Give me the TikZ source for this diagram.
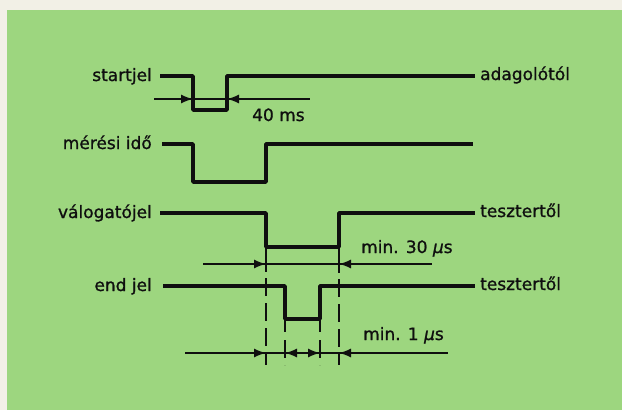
\documentclass[tikz,border=0pt]{standalone}
\usepackage{fontspec}
\setmainfont{DejaVu Sans}[BoldFont={DejaVu Sans},BoldFeatures={FakeBold=1.0},BoldItalicFont={DejaVu Sans Oblique},BoldItalicFeatures={FakeBold=1.0}]
\usetikzlibrary{arrows.meta}
\definecolor{paper}{RGB}{242,240,230}
\definecolor{bggreen}{RGB}{157,214,127}
\definecolor{ink}{RGB}{15,15,15}
\tikzset{
  sig/.style={draw=ink, line width=3.8pt, line join=round},
  dimline/.style={draw=ink, line width=1.5pt},
  arr/.style={draw=ink, line width=1.5pt, -{Latex[length=12pt,width=9pt]}},
  guide/.style={draw=ink, line width=2pt, dash pattern=on 18pt off 7pt},
  tick/.style={draw=ink, line width=2pt},
  lab/.style={font=\fontsize{17}{20}\selectfont\bfseries, text=ink, inner sep=0pt},
}
\begin{document}
\begin{tikzpicture}[x=1pt,y=-1pt]
\fill[paper] (0,0) rectangle (622,410);
\fill[bggreen] (7,10) rectangle (622,410);
\useasboundingbox (0,0) rectangle (622,410);

% labels left
\node[lab, anchor=base east] (l1) at (152,81) {startjel};
\node[lab, anchor=base east] (l2) at (152,149) {mérési idő};
\node[lab, anchor=base east] (l3) at (152,218) {válogatójel};
\node[lab, anchor=base east] (l4) at (152,291) {end jel};
% labels right
\node[lab, anchor=base west] (r1) at (480,80) {adagolótól};
\node[lab, anchor=base west] (r3) at (480,217) {tesztertől};
\node[lab, anchor=base west] (r4) at (480,290) {tesztertől};
% dimension texts
\node[lab, anchor=base west] (d1) at (252,121) {40 ms};
\node[lab, anchor=base west] (d2) at (361,253) {min. 30 \textit{μ}s};
\node[lab, anchor=base west] (d3) at (363,340) {min. 1 \textit{μ}s};

% signals
\draw[sig] (160,76) -- (193,76) -- (193,110) -- (227,110) -- (227,76) -- (475,76);
\draw[sig] (162,144) -- (193,144) -- (193,182) -- (266,182) -- (266,144) -- (473,144);
\draw[sig] (160,213) -- (266,213) -- (266,247) -- (339,247) -- (339,213) -- (475,213);
\draw[sig] (163,286) -- (285,286) -- (285,319) -- (320,319) -- (320,286) -- (475,286);

% guide lines
\draw[tick] (266,247) -- (266,272);
\draw[tick] (339,247) -- (339,273);
\draw[guide] (266,278) -- (266,365);
\draw[guide] (339,279) -- (339,365);
\draw[tick] (285,319) -- (285,332);
\draw[tick] (320,319) -- (320,332);
\draw[guide] (285,340) -- (285,365);
\draw[guide] (320,340) -- (320,365);

% dimension lines
\draw[dimline] (154,99) -- (310,99);
\draw[arr] (178,99) -- (193,99);
\draw[arr] (242,99) -- (227,99);

\draw[dimline] (203,264) -- (432,264);
\draw[arr] (251,264) -- (266,264);
\draw[arr] (354,264) -- (339,264);

\draw[dimline] (185,353) -- (448,353);
\draw[arr] (251,353) -- (266,353);
\draw[arr] (300,353) -- (285,353);
\draw[arr] (305,353) -- (320,353);
\draw[arr] (354,353) -- (339,353);
\end{tikzpicture}
\end{document}
